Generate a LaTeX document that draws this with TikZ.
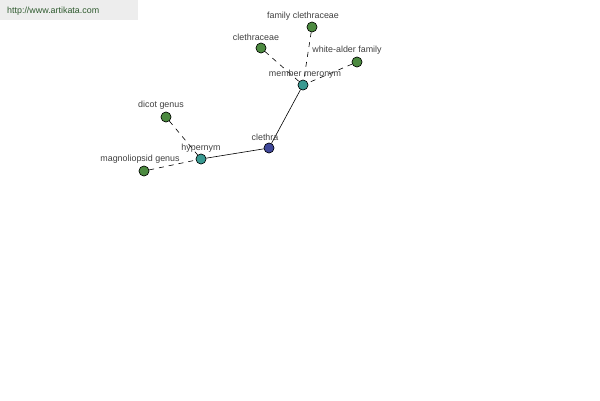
\documentclass[tikz,border=0pt]{standalone}
\usepackage{fontspec}
\setmainfont{Liberation Sans}
\definecolor{ngreen}{HTML}{4C8A40}
\definecolor{nteal}{HTML}{3A9A92}
\definecolor{nblue}{HTML}{40489A}
\definecolor{urlcol}{HTML}{2E5A2E}
\begin{document}
\begin{tikzpicture}[x=1pt,y=-1pt,
  dot/.style={circle,draw=black,line width=0.5pt,minimum size=10pt,inner sep=0pt},
  gdot/.style={dot,fill=ngreen},
  tdot/.style={dot,fill=nteal},
  bdot/.style={dot,fill=nblue},
  lbl/.style={font=\fontsize{8.9}{10}\selectfont,text=black!75,inner sep=0pt},
  rel/.style={line width=0.6pt,dash pattern=on 5pt off 5pt},
  solidrel/.style={line width=0.6pt}]
\useasboundingbox (0,0) rectangle (600,400);
\fill[black!7] (0,0) rectangle (138,20);
\node[font=\fontsize{8.9}{10}\selectfont,text=urlcol,anchor=west,inner sep=0pt] (url) at (7,11) {http://www.artikata.com};
% nodes
\node[bdot] (clethra) at (269,148) {};
\node[tdot] (hyp) at (201,159) {};
\node[tdot] (mer) at (303,85) {};
\node[gdot] (dicot) at (166,117) {};
\node[gdot] (mag) at (144,171) {};
\node[gdot] (clc) at (261,48) {};
\node[gdot] (fam) at (312,27) {};
\node[gdot] (wa) at (357,62) {};
% edges
\draw[solidrel] (clethra) -- (hyp);
\draw[solidrel] (clethra) -- (mer);
\draw[rel] (dicot) -- (hyp);
\draw[rel] (mag) -- (hyp);
\draw[rel] (clc) -- (mer);
\draw[rel] (fam) -- (mer);
\draw[rel] (wa) -- (mer);
% redraw nodes on top
\node[bdot] at (clethra) {};
\node[tdot] at (hyp) {};
\node[tdot] at (mer) {};
\node[gdot] at (dicot) {};
\node[gdot] at (mag) {};
\node[gdot] at (clc) {};
\node[gdot] at (fam) {};
\node[gdot] at (wa) {};
% labels
\node[lbl] (lclethra) at (265,137) {clethra};
\node[lbl] (lhyp) at (201,148) {hypernym};
\node[lbl] (lmer) at (305,74) {member meronym};
\node[lbl] (ldicot) at (161,105) {dicot genus};
\node[lbl] (lmag) at (140,159) {magnoliopsid genus};
\node[lbl] (lclc) at (256,37) {clethraceae};
\node[lbl] (lfam) at (303,16) {family clethraceae};
\node[lbl] (lwa) at (347,50) {white-alder family};
\end{tikzpicture}
\end{document}
